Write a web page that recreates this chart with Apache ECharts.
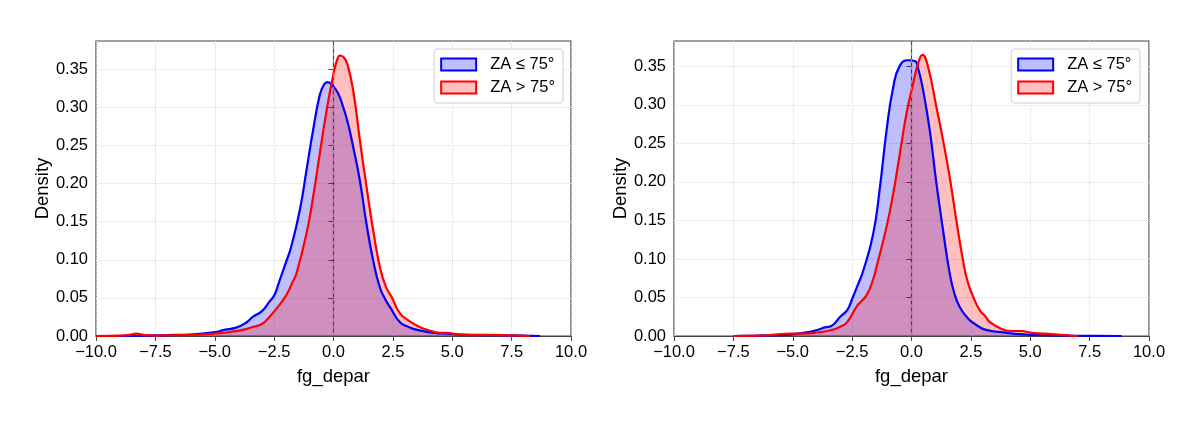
<!DOCTYPE html>
<html>
<head>
<meta charset="utf-8">
<script src="https://cdn.jsdelivr.net/npm/echarts@6/dist/echarts.min.js"></script>
<style>
  html, body { margin: 0; padding: 0; background: #fff; }
  #main { width: 1200px; height: 423px; }
</style>
</head>
<body>
<div id="main"></div>
<script>
// KDE curves, [fg_depar, density]
var leftBlue = [
  [-9.0, 0], [-8.0, 0.0005], [-7.0, 0.0012], [-6.0, 0.002], [-5.0, 0.005], [-4.6, 0.008],
  [-4.1, 0.011], [-3.7, 0.017], [-3.4, 0.025], [-3.0, 0.033], [-2.7, 0.045], [-2.5, 0.053],
  [-2.3, 0.07], [-2.0, 0.097], [-1.8, 0.115], [-1.42, 0.165], [-1.14, 0.217], [-0.86, 0.27],
  [-0.58, 0.316], [-0.4, 0.33], [-0.25, 0.333], [0, 0.327], [0.2, 0.318], [0.41, 0.30],
  [0.6, 0.28], [0.83, 0.248], [1.11, 0.204], [1.39, 0.147], [1.67, 0.099], [1.95, 0.064],
  [2.2, 0.047], [2.4, 0.037], [2.8, 0.018], [3.15, 0.012], [3.4, 0.009], [4.0, 0.005],
  [4.5, 0.0035], [5.0, 0.0025], [6.0, 0.0015], [7.0, 0.001], [8.0, 0.0005], [8.7, 0]
];
var leftRed = [
  [-10, 0], [-9.0, 0.0005], [-8.6, 0.0015], [-8.3, 0.003], [-8.0, 0.0015], [-7.5, 0.0005],
  [-7.0, 0.001], [-6.0, 0.0015], [-5.0, 0.003], [-4.2, 0.006], [-3.7, 0.009], [-3.4, 0.0118],
  [-3.0, 0.016], [-2.7, 0.025], [-2.4, 0.036], [-2.0, 0.053], [-1.72, 0.071], [-1.56, 0.082],
  [-1.14, 0.134], [-0.86, 0.182], [-0.58, 0.239], [-0.29, 0.296], [0, 0.344], [0.15, 0.362],
  [0.27, 0.368], [0.45, 0.365], [0.6, 0.355], [0.83, 0.322], [1.11, 0.257], [1.39, 0.196],
  [1.67, 0.139], [1.95, 0.091], [2.2, 0.065], [2.45, 0.051], [2.79, 0.03], [3.15, 0.0206],
  [3.5, 0.014], [3.8, 0.0096], [4.27, 0.0053], [4.6, 0.004], [4.8, 0.004], [5.2, 0.002],
  [6.0, 0.0012], [6.5, 0.0015], [7.5, 0.0008], [8.3, 0]
];
var rightBlue = [
  [-7.5, 0], [-6.5, 0.0005], [-5.5, 0.0012], [-5.0, 0.002], [-4.5, 0.0045], [-4.1, 0.0067],
  [-3.6, 0.0115], [-3.4, 0.0126], [-3.0, 0.025], [-2.7, 0.034], [-2.5, 0.048], [-2.29, 0.064],
  [-2.03, 0.085], [-1.61, 0.133], [-1.33, 0.193], [-1.05, 0.267], [-0.77, 0.323], [-0.49, 0.351],
  [-0.14, 0.358], [0.14, 0.357], [0.3, 0.345], [0.49, 0.319], [0.77, 0.267], [1.05, 0.198],
  [1.33, 0.137], [1.61, 0.081], [1.8, 0.056], [2.03, 0.0377], [2.4, 0.022], [2.7, 0.015],
  [3.1, 0.0083], [3.8, 0.005], [4.7, 0.002], [5.5, 0.001], [6.7, 0.0005], [8.85, 0]
];
var rightRed = [
  [-7.5, 0], [-6.5, 0.0005], [-6.0, 0.001], [-5.5, 0.0026], [-5.09, 0.003], [-4.5, 0.003],
  [-4.1, 0.004], [-3.41, 0.0074], [-3.0, 0.012], [-2.71, 0.018], [-2.29, 0.039], [-1.89, 0.053],
  [-1.6, 0.075], [-1.47, 0.09], [-1.05, 0.142], [-0.77, 0.185], [-0.49, 0.237], [-0.21, 0.289],
  [0.07, 0.328], [0.28, 0.354], [0.46, 0.365], [0.7, 0.349], [1.05, 0.297], [1.33, 0.254],
  [1.61, 0.206], [1.89, 0.15], [2.17, 0.098], [2.35, 0.072], [2.61, 0.05], [2.88, 0.033],
  [3.1, 0.026], [3.3, 0.018], [3.8, 0.009], [4.2, 0.0065], [4.64, 0.0065], [5.0, 0.0045],
  [5.6, 0.003], [6.7, 0.0005], [7.0, 0]
];
var seriesNames = ['ZA ≤ 75°', 'ZA > 75°'];
var yTicks = [0, 0.05, 0.1, 0.15, 0.2, 0.25, 0.3, 0.35];
var yMax = [0.387, 0.383];

var font = 'Liberation Sans, Arial, Helvetica, sans-serif';
var frame = '#444';

function fmtX(v) {
  return (v < 0 ? '\u2212' : '') + Math.abs(v).toFixed(1);
}

function xAxisFor(i) {
  return {
    type: 'value', gridIndex: i, min: -10, max: 10, interval: 2.5,
    name: 'fg_depar', nameLocation: 'middle', nameGap: 31,
    nameTextStyle: { fontSize: 18.5, color: '#000', fontFamily: font },
    axisLine: { show: true, lineStyle: { color: frame, width: 1.2 } },
    axisTick: { show: true, length: 5, lineStyle: { color: frame } },
    axisLabel: { fontSize: 16.5, color: '#000', fontFamily: font, margin: 8, formatter: fmtX },
    splitLine: { show: true, lineStyle: { color: '#dcdcdc', type: 'dotted', width: 1 } }
  };
}

function yAxisFor(i) {
  return {
    type: 'value', gridIndex: i, min: 0, max: yMax[i], interval: 0.05,
    name: 'Density', nameLocation: 'middle', nameGap: 44,
    nameTextStyle: { fontSize: 18.5, color: '#000', fontFamily: font },
    axisLine: { show: true, lineStyle: { color: frame, width: 1.2 } },
    axisTick: { show: true, length: 5, lineStyle: { color: frame }, customValues: yTicks },
    axisLabel: {
      fontSize: 16.5, color: '#000', fontFamily: font, margin: 8,
      customValues: yTicks,
      formatter: function (v) { return v.toFixed(2); }
    },
    splitLine: { show: true, lineStyle: { color: '#dcdcdc', type: 'dotted', width: 1 } }
  };
}

function kde(i, name, data, color, fill, withZeroLine) {
  var s = {
    name: name, type: 'line', xAxisIndex: i, yAxisIndex: i,
    data: data, smooth: 0.5, showSymbol: false, symbol: 'none',
    lineStyle: { color: color, width: 2.2 },
    itemStyle: { color: color },
    areaStyle: { color: fill, opacity: 1 },
    silent: true
  };
  if (withZeroLine) {
    s.markLine = {
      silent: true, symbol: 'none', label: { show: false },
      lineStyle: { color: '#888', type: [4, 3], width: 1 },
      data: [{ xAxis: 0 }]
    };
  }
  return s;
}

function legendFor(right) {
  return {
    orient: 'vertical', right: right, top: 49,
    backgroundColor: 'rgba(255,255,255,0.8)', borderColor: '#d0d0d0', borderWidth: 1,
    borderRadius: 3, padding: [6, 8, 6, 6], itemGap: 4,
    itemWidth: 35, itemHeight: 12,
    textStyle: { fontSize: 16.5, color: '#000', fontFamily: font, lineHeight: 19, padding: [0, 0, 0, 9] },
    data: [
      { name: seriesNames[0], icon: 'rect',
        itemStyle: { color: 'rgba(0,0,255,0.25)', borderColor: '#0000ff', borderWidth: 2 } },
      { name: seriesNames[1], icon: 'rect',
        itemStyle: { color: 'rgba(255,0,0,0.25)', borderColor: '#ff0000', borderWidth: 2 } }
    ]
  };
}

var option = {
  animation: false,
  backgroundColor: '#fff',
  grid: [
    { left: 96, right: 629, top: 41, height: 295, show: true, borderColor: frame, borderWidth: 1.2, backgroundColor: 'transparent' },
    { left: 674, right: 51, top: 41, height: 295, show: true, borderColor: frame, borderWidth: 1.2, backgroundColor: 'transparent' }
  ],
  legend: [legendFor(637), legendFor(60)],
  xAxis: [xAxisFor(0), xAxisFor(1)],
  yAxis: [yAxisFor(0), yAxisFor(1)],
  series: [
    kde(0, seriesNames[0], leftBlue, '#0000ff', 'rgba(0,0,255,0.25)', false),
    kde(0, seriesNames[1], leftRed, '#ff0000', 'rgba(255,0,0,0.25)', true),
    kde(1, seriesNames[0], rightBlue, '#0000ff', 'rgba(0,0,255,0.25)', false),
    kde(1, seriesNames[1], rightRed, '#ff0000', 'rgba(255,0,0,0.25)', true)
  ]
};

var myChart = echarts.init(document.getElementById('main'), null, { renderer: 'canvas' });
myChart.setOption(option);
</script>
</body>
</html>
